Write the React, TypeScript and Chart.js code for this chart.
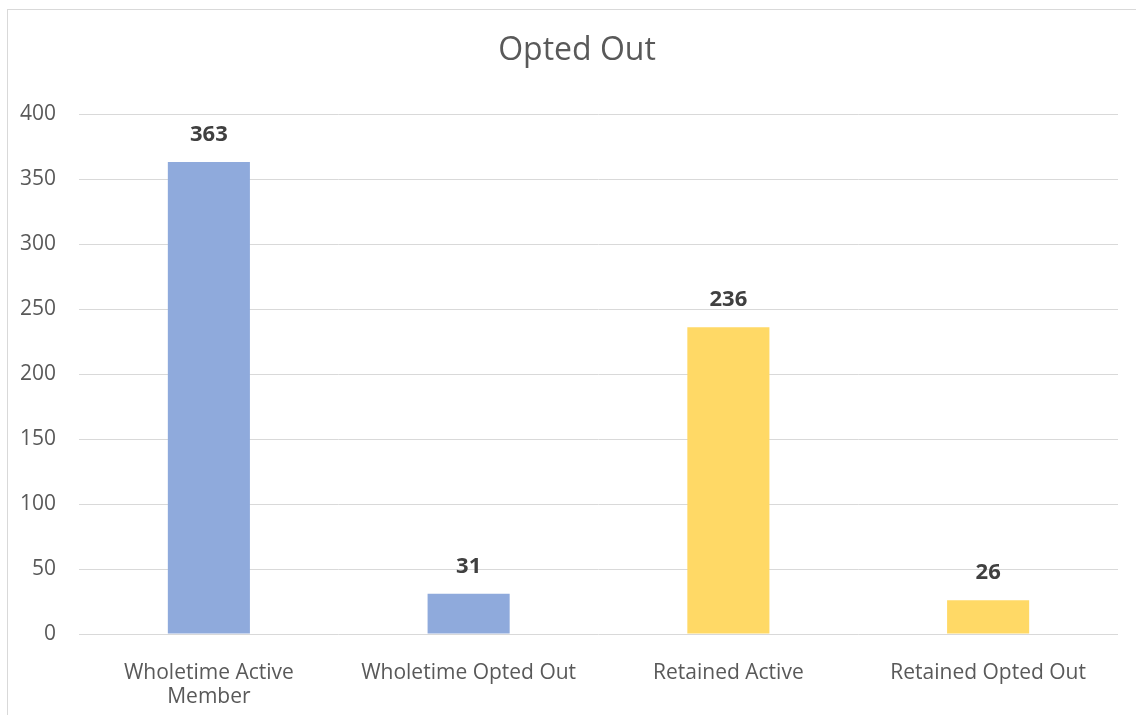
import React, { useEffect, useRef } from "react";
import { Chart, registerables } from "chart.js";

Chart.register(...registerables);

const categories: (string | string[])[] = [
  ["Wholetime Active", "Member"],
  "Wholetime Opted Out",
  "Retained Active",
  "Retained Opted Out",
];
const values: number[] = [363, 31, 236, 26];
const barColors: string[] = ["#8FAADC", "#8FAADC", "#FFD966", "#FFD966"];
const yTicksMin = 0;
const yTicksMax = 400;
const yTicksStep = 50;
const chartTitle = "Opted Out";

const FONT = "'Open Sans', 'Noto Sans', sans-serif";

const dataLabelPlugin = {
  id: "dataLabels",
  afterDatasetsDraw(chart: any) {
    const ctx = chart.ctx;
    const meta = chart.getDatasetMeta(0);
    ctx.save();
    ctx.font = `bold 22px ${FONT}`;
    ctx.fillStyle = "#404040";
    ctx.textAlign = "center";
    ctx.textBaseline = "middle";
    meta.data.forEach((bar: any, i: number) => {
      ctx.fillText(String(values[i]), bar.x, bar.y - 27);
    });
    ctx.restore();
  },
};

const titlePlugin = {
  id: "centeredTitle",
  afterDraw(chart: any) {
    const ctx = chart.ctx;
    ctx.save();
    ctx.font = `32px ${FONT}`;
    ctx.fillStyle = "#595959";
    ctx.textAlign = "center";
    ctx.textBaseline = "middle";
    ctx.fillText(chartTitle, chart.width / 2, 41);
    ctx.restore();
  },
};

export default function App() {
  const ref = useRef<HTMLCanvasElement | null>(null);

  useEffect(() => {
    if (!ref.current) return;
    const chart = new Chart(ref.current, {
      type: "bar",
      data: {
        labels: categories,
        datasets: [
          {
            data: values,
            backgroundColor: barColors,
            borderWidth: 0,
            categoryPercentage: 1,
            barPercentage: 0.316,
          },
        ],
      },
      options: {
        animation: false,
        responsive: false,
        layout: { padding: { left: 0, right: 28, top: 104, bottom: 0 } },
        plugins: {
          legend: { display: false },
          tooltip: { enabled: false },
          title: { display: false },
        },
        scales: {
          x: {
            grid: { display: false, drawTicks: false },
            border: { display: false },
            ticks: {
              color: "#595959",
              font: { family: FONT, size: 21, lineHeight: 1.143 },
              padding: 27,
              maxRotation: 0,
              autoSkip: false,
            },
            afterFit: (scale: any) => {
              scale.height = 104;
            },
          },
          y: {
            min: yTicksMin,
            max: yTicksMax,
            grid: { color: "#D9D9D9", lineWidth: 1, drawTicks: false },
            border: { display: false },
            ticks: {
              stepSize: yTicksStep,
              color: "#595959",
              font: { family: FONT, size: 21 },
              padding: 23,
            },
            afterFit: (scale: any) => {
              scale.width = 71;
            },
          },
        },
      },
      plugins: [dataLabelPlugin, titlePlugin],
    });
    return () => chart.destroy();
  }, []);

  return (
    <div
      style={{
        position: "fixed",
        left: 0,
        top: 0,
        width: 1136,
        height: 715,
        overflow: "hidden",
        background: "#ffffff",
      }}
    >
      <div
        style={{
          position: "absolute",
          left: 7,
          top: 9,
          width: 1140,
          height: 730,
          border: "1px solid #D9D9D9",
          boxSizing: "border-box",
          background: "#ffffff",
        }}
      >
        <canvas ref={ref} width={1138} height={728} style={{ display: "block", width: 1138, height: 728 }} />
      </div>
    </div>
  );
}
